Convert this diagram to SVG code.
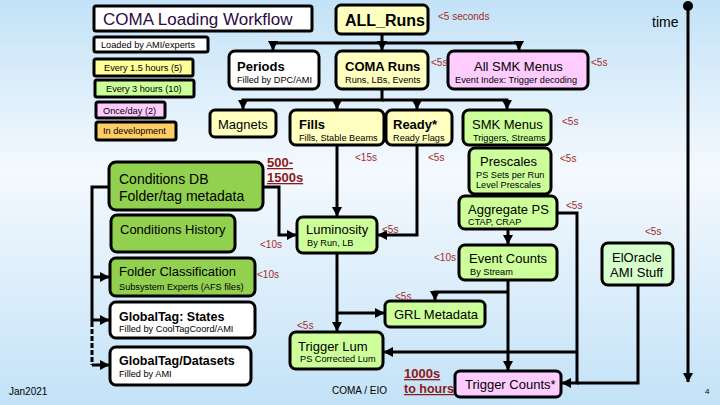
<svg xmlns="http://www.w3.org/2000/svg" width="720" height="405" viewBox="0 0 720 405">
<defs>
<linearGradient id="bg" x1="0" y1="0" x2="0" y2="1">
<stop offset="0" stop-color="#c3e2f7"/>
<stop offset="0.42" stop-color="#f4f9fe"/>
<stop offset="1" stop-color="#c3e2f7"/>
</linearGradient>
<marker id="ah" markerUnits="userSpaceOnUse" markerWidth="11" markerHeight="11" refX="9" refY="5.5" orient="auto">
<path d="M0,0.5 L9.5,5.5 L0,10.5 z" fill="#000"/>
</marker>
<style>
.bx{stroke:#000;stroke-width:3}
.w{fill:#ffffff}.y{fill:#ffffc0}.y2{fill:#ffff99}.g{fill:#ccff99}.lg{fill:#d6ffcc}.dg{fill:#92d050}.p{fill:#ffccff}.o{fill:#ffcc66}
text{font-family:"Liberation Sans",Arial,sans-serif;fill:#000}
.m{font-size:13px}
.s{font-size:9.2px}
.b{font-weight:bold}
.r{font-size:10px;fill:#a52a2a}
.u{font-size:13px;font-weight:bold;fill:#8b1a1a;text-decoration:underline}
.c{fill:none;stroke:#000;stroke-width:3}
</style>
</defs>
<rect width="720" height="405" fill="url(#bg)"/>

<g id="connectors">
<path class="c" d="M382,34 V43 H273 V50" marker-end="url(#ah)"/>
<path class="c" d="M382,43 V50" marker-end="url(#ah)"/>
<path class="c" d="M382,43 H519 V50" marker-end="url(#ah)"/>
<path class="c" d="M382,89 V100 H243 V109" marker-end="url(#ah)"/>
<path class="c" d="M337,100 V109" marker-end="url(#ah)"/>
<path class="c" d="M417,100 V109" marker-end="url(#ah)"/>
<path class="c" d="M382,100 H507 V109" marker-end="url(#ah)"/>
<path class="c" d="M337,145 V216" marker-end="url(#ah)"/>
<path class="c" d="M417,145 V235 H378" marker-end="url(#ah)"/>
<path class="c" d="M263,187 H279 V235 H296" marker-end="url(#ah)"/>
<path class="c" d="M337,253 V331" marker-end="url(#ah)"/>
<path class="c" d="M337,313 H384" marker-end="url(#ah)"/>
<path class="c" d="M508,229 V244" marker-end="url(#ah)"/>
<path class="c" d="M508,280 V370" marker-end="url(#ah)"/>
<path class="c" d="M508,292 H435 V300" marker-end="url(#ah)"/>
<path class="c" d="M557,213 H577 V383 H562" marker-end="url(#ah)"/>
<path class="c" d="M577,352 H384" marker-end="url(#ah)"/>
<path class="c" d="M638,285 V383 H577"/>
<path class="c" d="M109,187 H92 V322"/>
<path class="c" d="M92,322 V365" stroke-dasharray="5,2"/>
<path class="c" d="M92,365 H109" marker-end="url(#ah)"/>
<path class="c" d="M92,277 H109" marker-end="url(#ah)"/>
<path class="c" d="M92,320 H109" marker-end="url(#ah)"/>
<path class="c" d="M688,6 V382" marker-end="url(#ah)"/>
<circle cx="688" cy="6" r="5" fill="#000"/>
</g>

<g id="title"><rect class="bx w" x="94" y="6" width="218" height="25" rx="2"/><text x="103" y="25" style="font-size:17px;fill:#2b0b3f">COMA Loading Workflow</text></g>
<g id="allruns"><rect class="bx y" x="336" y="5" width="92" height="29" rx="5"/><text class="b" x="345" y="26" style="font-size:16px">ALL_Runs</text></g>
<g id="legend-loaded"><rect class="bx w" x="94" y="37" width="114" height="15" rx="2"/><text class="s" x="101" y="48">Loaded by AMI/experts</text></g>
<g id="legend-15h"><rect class="bx y2" x="94" y="59" width="99" height="17" rx="2"/><text class="s" x="104" y="71">Every 1.5 hours (5)</text></g>
<g id="legend-3h"><rect class="bx g" x="95" y="80" width="99" height="17" rx="2"/><text class="s" x="106" y="92">Every 3 hours (10)</text></g>
<g id="legend-day"><rect class="bx p" x="96" y="102" width="69" height="16" rx="2"/><text class="s" x="103" y="114">Once/day (2)</text></g>
<g id="legend-dev"><rect class="bx o" x="96" y="122" width="80" height="18" rx="2"/><text class="s" x="103" y="134">In development</text></g>

<g id="periods"><rect class="bx w" x="229" y="51" width="90" height="38" rx="6"/><text class="m b" x="237" y="71">Periods</text><text class="s" x="237" y="83">Filled by DPC/AMI</text></g>
<g id="comaruns"><rect class="bx y" x="336" y="51" width="92" height="38" rx="6"/><text class="m b" x="345" y="71">COMA Runs</text><text class="s" x="345" y="83">Runs, LBs, Events</text></g>
<g id="allsmk"><rect class="bx p" x="448" y="51" width="140" height="38" rx="6"/><text class="m" x="474" y="71">All SMK Menus</text><text class="s" x="455" y="83">Event Index: Trigger decoding</text></g>

<g id="magnets"><rect class="bx y" x="210" y="110" width="66" height="27" rx="5"/><text class="m" x="218" y="129">Magnets</text></g>
<g id="fills"><rect class="bx y" x="290" y="110" width="94" height="35" rx="6"/><text class="m b" x="299" y="129">Fills</text><text class="s" x="299" y="141">Fills, Stable Beams</text></g>
<g id="ready"><rect class="bx y" x="386" y="110" width="66" height="35" rx="6"/><text class="m b" x="393" y="129">Ready*</text><text class="s" x="393" y="141">Ready Flags</text></g>
<g id="smkmenus"><rect class="bx g" x="463" y="110" width="88" height="35" rx="6"/><text class="m" x="472" y="129">SMK Menus</text><text class="s" x="473" y="141">Triggers, Streams</text></g>
<g id="prescales"><rect class="bx g" x="469" y="148" width="82" height="46" rx="6"/><text class="m" x="480" y="166">Prescales</text><text class="s" x="476" y="178">PS Sets per Run</text><text class="s" x="476" y="188">Level Prescales</text></g>
<g id="aggregate"><rect class="bx g" x="459" y="196" width="98" height="33" rx="6"/><text class="m" x="468" y="214">Aggregate PS</text><text class="s" x="468" y="225">CTAP, CRAP</text></g>

<g id="conddb"><rect class="bx dg" x="109" y="162" width="154" height="48" rx="7"/><text x="119" y="184" style="font-size:14px">Conditions DB</text><text x="119" y="201" style="font-size:14px">Folder/tag metadata</text></g>
<g id="condhist"><rect class="bx dg" x="111" y="215" width="124" height="37" rx="6"/><text class="m" x="120" y="234">Conditions History</text></g>
<g id="folderclass"><rect class="bx dg" x="110" y="258" width="145" height="38" rx="6"/><text class="m" x="119" y="276">Folder Classification</text><text class="s" x="119" y="290">Subsystem Experts (AFS files)</text></g>
<g id="gtstates"><rect class="bx w" x="110" y="302" width="145" height="36" rx="6"/><text class="b" x="119" y="321" style="font-size:12.5px">GlobalTag: States</text><text class="s" x="119" y="332">Filled by CoolTagCoord/AMI</text></g>
<g id="gtdatasets"><rect class="bx w" x="110" y="347" width="141" height="38" rx="6"/><text class="b" x="119" y="365" style="font-size:12.5px">GlobalTag/Datasets</text><text class="s" x="119" y="377">Filled by AMI</text></g>

<g id="luminosity"><rect class="bx g" x="297" y="217" width="80" height="36" rx="6"/><text class="m" x="306" y="234">Luminosity</text><text class="s" x="307" y="246">By Run, LB</text></g>
<g id="eventcounts"><rect class="bx g" x="459" y="245" width="98" height="35" rx="6"/><text class="m" x="469" y="263">Event Counts</text><text class="s" x="470" y="275">By Stream</text></g>
<g id="eloracle"><rect class="bx lg" x="602" y="243" width="71" height="42" rx="6"/><text class="m" x="612" y="262">ElOracle</text><text class="m" x="610" y="277">AMI Stuff</text></g>
<g id="grl"><rect class="bx g" x="385" y="301" width="100" height="26" rx="5"/><text class="m" x="394" y="319">GRL Metadata</text></g>
<g id="triggerlum"><rect class="bx g" x="290" y="332" width="93" height="37" rx="6"/><text class="m" x="298" y="351">Trigger Lum</text><text class="s" x="300" y="362">PS Corrected Lum</text></g>
<g id="triggercounts"><rect class="bx p" x="455" y="371" width="106" height="26" rx="5"/><text class="m" x="465" y="389">Trigger Counts*</text></g>

<g id="labels">
<text class="r" x="438" y="20">&lt;5 seconds</text>
<text class="r" x="431" y="66">&lt;5s</text>
<text class="r" x="591" y="66">&lt;5s</text>
<text class="r" x="562" y="125">&lt;5s</text>
<text class="r" x="355" y="161">&lt;15s</text>
<text class="r" x="428" y="161">&lt;5s</text>
<text class="r" x="560" y="162">&lt;5s</text>
<text class="r" x="566" y="209">&lt;5s</text>
<text class="r" x="645" y="235">&lt;5s</text>
<text class="r" x="382" y="233">&lt;5s</text>
<text class="r" x="260" y="248">&lt;10s</text>
<text class="r" x="434" y="261">&lt;10s</text>
<text class="r" x="257" y="278">&lt;10s</text>
<text class="r" x="395" y="300">&lt;5s</text>
<text class="r" x="297" y="329">&lt;5s</text>
<text class="u" x="267" y="167">500-</text>
<text class="u" x="267" y="182">1500s</text>
<text class="u" x="404" y="378">1000s</text>
<text class="u" x="404" y="393" style="font-size:12.5px">to hours</text>
<text x="652" y="27" style="font-size:14px">time</text>
<text x="332" y="394" style="font-size:10px">COMA / EIO</text>
<text x="9" y="395" style="font-size:10px">Jan2021</text>
<text x="705" y="394" style="font-size:8px">4</text>
</g>
</svg>
